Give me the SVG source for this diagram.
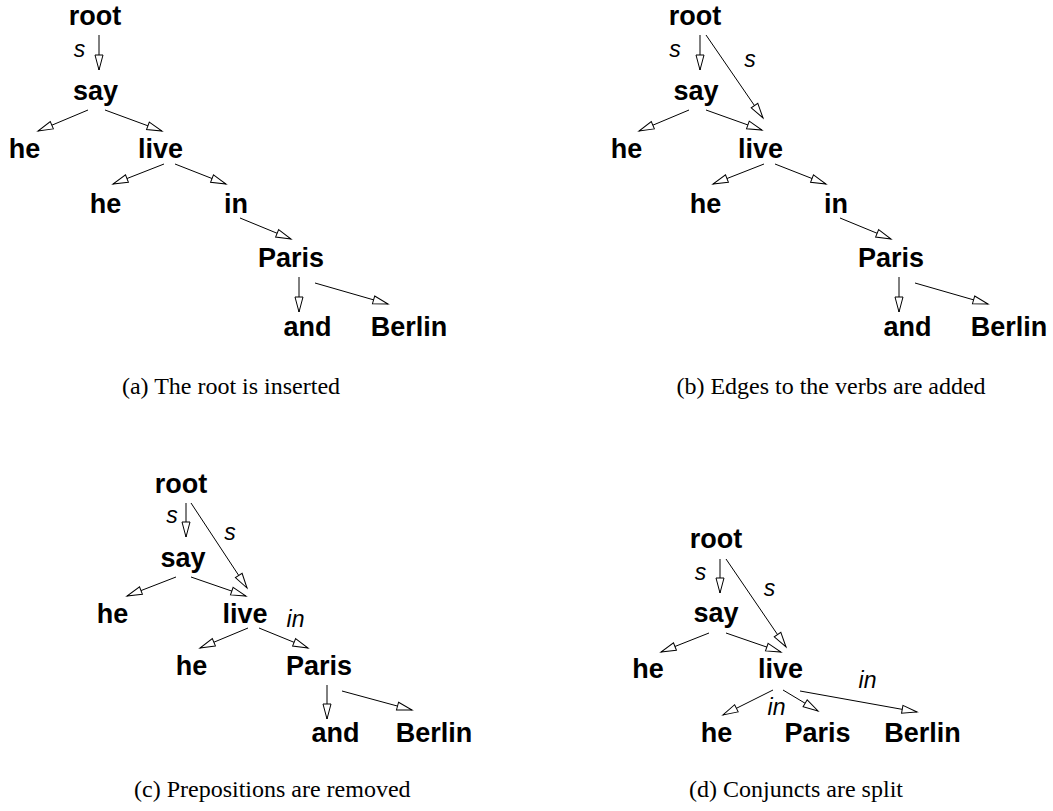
<svg xmlns="http://www.w3.org/2000/svg" width="1053" height="811" viewBox="0 0 1053 811">
  <style>
    .node { font-family: "Liberation Sans", Arial, sans-serif; font-weight: bold; font-size: 27px; fill: #000; text-anchor: middle; }
    .lbl { font-family: "Liberation Sans", Arial, sans-serif; font-style: italic; font-size: 23px; fill: #000; text-anchor: middle; }
    .cap { font-family: "Liberation Serif", "Times New Roman", serif; font-size: 24px; fill: #000; }
    .edge { stroke: #000; stroke-width: 1; fill: none; marker-end: url(#head); }
  </style>
  <defs>
    <!-- open triangular arrowhead, tip placed at the line end -->
    <marker id="head" markerUnits="userSpaceOnUse" markerWidth="17" markerHeight="10" refX="15" refY="4" orient="auto" overflow="visible">
      <path d="M0,0 L15,4 L0,8 Z" fill="#fff" stroke="#000" stroke-width="1"/>
    </marker>
  </defs>
  <rect width="1053" height="811" fill="#fff"/>

  <!-- (a) the root is inserted -->
  <g id="a-nodes">
    <g id="a-root"><text class="node" x="95" y="25">root</text></g>
    <g id="a-say"><text class="node" x="95.5" y="100">say</text></g>
    <g id="a-he1"><text class="node" x="24.5" y="158">he</text></g>
    <g id="a-live"><text class="node" x="160.5" y="158">live</text></g>
    <g id="a-he2"><text class="node" x="105.5" y="213">he</text></g>
    <g id="a-in"><text class="node" x="236" y="213">in</text></g>
    <g id="a-paris"><text class="node" x="291" y="267">Paris</text></g>
    <g id="a-and"><text class="node" x="307.5" y="336">and</text></g>
    <g id="a-berlin"><text class="node" x="409" y="336">Berlin</text></g>
  </g>
  <g id="a-edges">
    <line class="edge" x1="99" y1="35" x2="99" y2="70"/>
    <line class="edge" x1="88" y1="110" x2="38" y2="131"/>
    <line class="edge" x1="105" y1="110" x2="162" y2="131"/>
    <line class="edge" x1="164" y1="164" x2="113" y2="184"/>
    <line class="edge" x1="175" y1="164" x2="226" y2="184"/>
    <line class="edge" x1="240" y1="218" x2="291" y2="239"/>
    <line class="edge" x1="299" y1="277" x2="299" y2="312"/>
    <line class="edge" x1="315" y1="283" x2="388" y2="304"/>
    <text class="lbl" x="79.5" y="57">s</text>
  </g>
  <text class="cap" x="231" y="394" text-anchor="middle">(a) The root is inserted</text>

  <!-- (b) edges to the verbs are added -->
  <g id="b-nodes">
    <g id="b-root"><text class="node" x="695" y="25">root</text></g>
    <g id="b-say"><text class="node" x="696" y="100">say</text></g>
    <g id="b-he1"><text class="node" x="626.5" y="158">he</text></g>
    <g id="b-live"><text class="node" x="760.5" y="158">live</text></g>
    <g id="b-he2"><text class="node" x="705.5" y="213">he</text></g>
    <g id="b-in"><text class="node" x="836" y="213">in</text></g>
    <g id="b-paris"><text class="node" x="891" y="267">Paris</text></g>
    <g id="b-and"><text class="node" x="907.5" y="336">and</text></g>
    <g id="b-berlin"><text class="node" x="1009" y="336">Berlin</text></g>
  </g>
  <g id="b-edges">
    <line class="edge" x1="700" y1="35" x2="700" y2="70"/>
    <line class="edge" x1="706" y1="35" x2="763" y2="118"/>
    <line class="edge" x1="689" y1="110" x2="639" y2="131"/>
    <line class="edge" x1="706" y1="110" x2="762" y2="130"/>
    <line class="edge" x1="764" y1="164" x2="713" y2="184"/>
    <line class="edge" x1="775" y1="164" x2="826" y2="184"/>
    <line class="edge" x1="840" y1="218" x2="891" y2="239"/>
    <line class="edge" x1="899" y1="277" x2="899" y2="312"/>
    <line class="edge" x1="915" y1="283" x2="988" y2="304"/>
    <text class="lbl" x="675" y="57">s</text>
    <text class="lbl" x="750" y="67">s</text>
  </g>
  <text class="cap" x="831" y="394" text-anchor="middle">(b) Edges to the verbs are added</text>

  <!-- (c) prepositions are removed -->
  <g id="c-nodes">
    <g id="c-root"><text class="node" x="181" y="493">root</text></g>
    <g id="c-say"><text class="node" x="183" y="567">say</text></g>
    <g id="c-he1"><text class="node" x="112.5" y="623">he</text></g>
    <g id="c-live"><text class="node" x="245" y="623">live</text></g>
    <g id="c-he2"><text class="node" x="191.5" y="675">he</text></g>
    <g id="c-paris"><text class="node" x="319" y="675">Paris</text></g>
    <g id="c-and"><text class="node" x="335.5" y="742">and</text></g>
    <g id="c-berlin"><text class="node" x="434" y="742">Berlin</text></g>
  </g>
  <g id="c-edges">
    <line class="edge" x1="186" y1="503" x2="186" y2="537"/>
    <line class="edge" x1="191" y1="503" x2="247" y2="588"/>
    <line class="edge" x1="176" y1="577" x2="127" y2="596"/>
    <line class="edge" x1="191" y1="577" x2="246" y2="596"/>
    <line class="edge" x1="248" y1="628" x2="200" y2="648"/>
    <line class="edge" x1="259" y1="628" x2="308" y2="648"/>
    <line class="edge" x1="327" y1="685" x2="327" y2="719"/>
    <line class="edge" x1="342" y1="691" x2="412" y2="710"/>
    <text class="lbl" x="172" y="523">s</text>
    <text class="lbl" x="230" y="540">s</text>
    <text class="lbl" x="295.5" y="627">in</text>
  </g>
  <text class="cap" x="134" y="797">(c) Prepositions are removed</text>

  <!-- (d) conjuncts are split -->
  <g id="d-nodes">
    <g id="d-root"><text class="node" x="716" y="548">root</text></g>
    <g id="d-say"><text class="node" x="716" y="622">say</text></g>
    <g id="d-he1"><text class="node" x="648" y="678">he</text></g>
    <g id="d-live"><text class="node" x="780.5" y="678">live</text></g>
    <g id="d-he2"><text class="node" x="716.5" y="742">he</text></g>
    <g id="d-paris"><text class="node" x="817.5" y="742">Paris</text></g>
    <g id="d-berlin"><text class="node" x="922.5" y="742">Berlin</text></g>
  </g>
  <g id="d-edges">
    <line class="edge" x1="720" y1="559" x2="720" y2="593"/>
    <line class="edge" x1="726" y1="559" x2="786" y2="647"/>
    <line class="edge" x1="709" y1="633" x2="661" y2="652"/>
    <line class="edge" x1="726" y1="633" x2="781" y2="652"/>
    <line class="edge" x1="773" y1="690" x2="723" y2="715"/>
    <line class="edge" x1="783" y1="690" x2="818" y2="711"/>
    <line class="edge" x1="800" y1="691" x2="917" y2="712"/>
    <text class="lbl" x="700.5" y="580">s</text>
    <text class="lbl" x="769.5" y="596">s</text>
    <text class="lbl" x="776.5" y="715">in</text>
    <text class="lbl" x="867.5" y="688">in</text>
  </g>
  <text class="cap" x="689" y="797">(d) Conjuncts are split</text>
</svg>
